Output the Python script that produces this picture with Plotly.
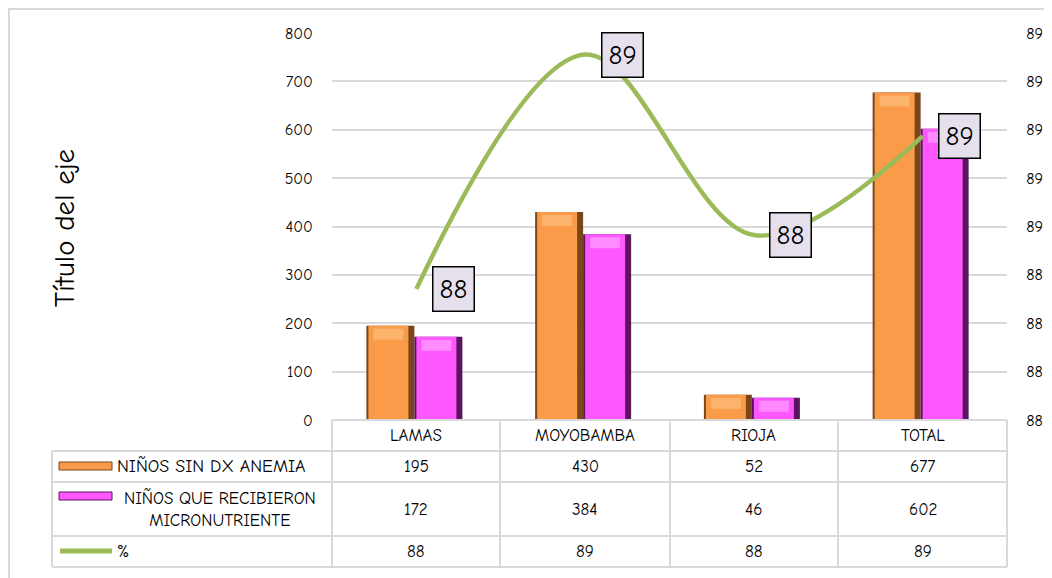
import plotly.graph_objects as go

# ---------------- data ----------------
categories = ["LAMAS", "MOYOBAMBA", "RIOJA", "TOTAL"]
sin_dx_anemia = [195, 430, 52, 677]
recibieron_micro = [172, 384, 46, 602]
pct = [88.21, 89.30, 88.46, 88.92]
pct_labels = ["88", "89", "88", "89"]
table_pct = ["88", "89", "88", "89"]

series_names = ["NIÑOS SIN DX ANEMIA", "NIÑOS QUE RECIBIERON<br>MICRONUTRIENTE", "%"]
y_title = "Título del eje"
y_ticks = [0, 100, 200, 300, 400, 500, 600, 700, 800]
y2_range = [87.6, 89.4]
y2_ticktext = ["88", "88", "88", "88", "89", "89", "89", "89", "89"]

# ---------------- styling ----------------
PAGE_OFF = 8                      # page body margin
W, H = 1052 - PAGE_OFF, 578 - PAGE_OFF
L, R, T, B = 332, 1007, 33, 420   # plot area in window pixels
FONT = "Comic Sans MS, Comic Neue, DejaVu Sans, sans-serif"
ORANGE, ORANGE_D, ORANGE_L = "#F99B48", "#7A461A", "#FCBC7A"
MAGENTA, MAGENTA_D, MAGENTA_L = "#FF57FF", "#5A1460", "#FF9CFF"
GREEN = "#9BBB59"
GRID = "#D9D9D9"


def px_x(x):
    return (x - L) / (R - L)


def px_y(y):
    return (B - y) / (B - T)


UNIT = (R - L) / len(categories)      # px per category
VPX = (B - T) / (y_ticks[-1] - y_ticks[0])  # px per value unit
bw = 48 / UNIT

fig = go.Figure()

# bars: dark base + main body + light top cap to hint at the 3-D bevel
for vals, col, dark, light, off in [
    (sin_dx_anemia, ORANGE, ORANGE_D, ORANGE_L, -50 / UNIT),
    (recibieron_micro, MAGENTA, MAGENTA_D, MAGENTA_L, -2 / UNIT),
]:
    fig.add_trace(go.Bar(x=categories, y=vals, offset=off, width=bw,
                         marker=dict(color=dark, line=dict(width=0)),
                         showlegend=False, hoverinfo="skip"))
    fig.add_trace(go.Bar(x=categories, y=vals, offset=off + 2 / UNIT,
                         width=bw - 8 / UNIT,
                         marker=dict(color=col, line=dict(width=0)),
                         showlegend=False))
    cap = [min(v, 14 / VPX) for v in vals]
    fig.add_trace(go.Bar(x=categories, y=[c - 3 / VPX for c in cap],
                         base=[v - c for v, c in zip(vals, cap)],
                         offset=off + 7 / UNIT, width=bw - 18 / UNIT,
                         marker=dict(color=light, opacity=0.75, line=dict(width=0)),
                         showlegend=False, hoverinfo="skip"))

fig.add_trace(go.Scatter(x=categories, y=pct, yaxis="y2", mode="lines",
                         line=dict(color=GREEN, width=4.5, shape="spline"),
                         showlegend=False))

# data labels
for c, v, t in zip(categories, pct, pct_labels):
    fig.add_annotation(x=c, y=v, xref="x", yref="y2", text=t, showarrow=False,
                       xshift=37, xanchor="center", yanchor="middle",
                       font=dict(family=FONT, size=27, color="#000"),
                       bgcolor="#E6E0EC", bordercolor="#000", borderwidth=1.5,
                       borderpad=6)

shapes = []
# outer chart border (drawn at the very edge of the figure)
shapes.append(dict(type="rect", xref="paper", yref="paper",
                   x0=px_x(PAGE_OFF + 1), x1=px_x(1070),
                   y0=px_y(PAGE_OFF + 1), y1=px_y(600),
                   line=dict(color=GRID, width=2), fillcolor="rgba(0,0,0,0)",
                   layer="below"))

# data table grid
col_edges = [332, 500, 670, 838, 1007]
row_edges = [420, 451, 482, 536, 567]
tbl = dict(color=GRID, width=2)
shapes.append(dict(type="line", xref="paper", yref="paper", x0=px_x(332), x1=px_x(1007),
                   y0=px_y(420), y1=px_y(420), line=tbl))
for ry in row_edges[1:]:
    shapes.append(dict(type="line", xref="paper", yref="paper", x0=px_x(52), x1=px_x(1007),
                       y0=px_y(ry), y1=px_y(ry), line=tbl))
for cx in col_edges:
    shapes.append(dict(type="line", xref="paper", yref="paper", x0=px_x(cx), x1=px_x(cx),
                       y0=px_y(420), y1=px_y(567), line=tbl))
shapes.append(dict(type="line", xref="paper", yref="paper", x0=px_x(52), x1=px_x(52),
                   y0=px_y(451), y1=px_y(567), line=tbl))

# legend keys in table
shapes.append(dict(type="rect", xref="paper", yref="paper", x0=px_x(59), x1=px_x(112),
                   y0=px_y(470), y1=px_y(462), fillcolor=ORANGE,
                   line=dict(color=ORANGE_D, width=1)))
shapes.append(dict(type="rect", xref="paper", yref="paper", x0=px_x(59), x1=px_x(112),
                   y0=px_y(500), y1=px_y(492), fillcolor=MAGENTA,
                   line=dict(color=MAGENTA_D, width=1)))
shapes.append(dict(type="line", xref="paper", yref="paper", x0=px_x(60), x1=px_x(112),
                   y0=px_y(551), y1=px_y(551), line=dict(color=GREEN, width=5)))

tf = dict(family=FONT, size=17, color="#000")
row_centers = [(row_edges[i] + row_edges[i + 1]) / 2 for i in range(4)]

# header row (categories)
for c in categories:
    fig.add_annotation(x=c, y=px_y(row_centers[0]), xref="x", yref="paper", text=c,
                       showarrow=False, xanchor="center", yanchor="middle", font=tf)
# value rows
for row_i, vals in [(1, sin_dx_anemia), (2, recibieron_micro), (3, table_pct)]:
    for c, v in zip(categories, vals):
        fig.add_annotation(x=c, y=px_y(row_centers[row_i]), xref="x", yref="paper",
                           text=str(v), showarrow=False, xanchor="center",
                           yanchor="middle", font=tf)
# row labels
fig.add_annotation(x=px_x(115), y=px_y(row_centers[1]), xref="paper", yref="paper",
                   text=series_names[0], showarrow=False, xanchor="left",
                   yanchor="middle", font=dict(family=FONT, size=18, color="#000"))
fig.add_annotation(x=px_x(220), y=px_y(row_centers[2]), xref="paper", yref="paper",
                   text=series_names[1], showarrow=False, xanchor="center",
                   yanchor="middle", align="center", font=tf)
fig.add_annotation(x=px_x(115), y=px_y(row_centers[3]), xref="paper", yref="paper",
                   text=series_names[2], showarrow=False, xanchor="left",
                   yanchor="middle", font=tf)

# axis title
fig.add_annotation(x=px_x(64), y=px_y(228), xref="paper", yref="paper", text=y_title,
                   textangle=-90, showarrow=False, xanchor="center", yanchor="middle",
                   font=dict(family=FONT, size=29, color="#000"))

step2 = (y2_range[1] - y2_range[0]) / (len(y2_ticktext) - 1)
y2_tickvals = [y2_range[0] + i * step2 for i in range(len(y2_ticktext))]

fig.update_layout(
    width=W, height=H,
    margin=dict(l=L - PAGE_OFF, r=W - (R - PAGE_OFF), t=T - PAGE_OFF,
                b=H - (B - PAGE_OFF), autoexpand=False),
    paper_bgcolor="white", plot_bgcolor="white",
    barmode="overlay",
    showlegend=False,
    font=dict(family=FONT, size=16, color="#000"),
    shapes=shapes,
    xaxis=dict(type="category", categoryorder="array", categoryarray=categories,
               range=[-0.5, len(categories) - 0.5], showticklabels=False,
               showgrid=False, zeroline=False, showline=False, ticks="",
               automargin=False),
    yaxis=dict(range=[0, 800], tickvals=y_ticks, showgrid=True, gridcolor=GRID,
               gridwidth=2, zeroline=False, showline=False, ticks="outside",
               ticklen=15, tickcolor="rgba(0,0,0,0)", automargin=False,
               tickfont=dict(family=FONT, size=16, color="#000")),
    yaxis2=dict(overlaying="y", side="right", range=y2_range, tickvals=y2_tickvals,
                ticktext=y2_ticktext, showgrid=False, zeroline=False, showline=False,
                ticks="outside", ticklen=15, tickcolor="rgba(0,0,0,0)",
                automargin=False,
                tickfont=dict(family=FONT, size=16, color="#000")),
)

fig.write_html("out.html")
